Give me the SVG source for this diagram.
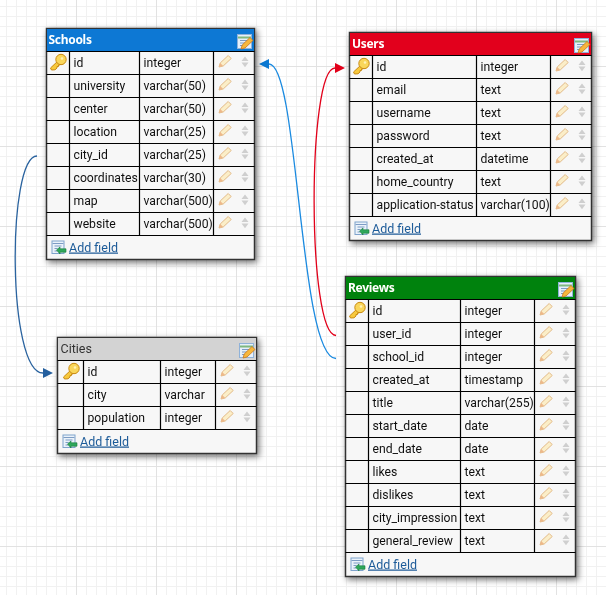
<svg xmlns="http://www.w3.org/2000/svg" width="606" height="595" viewBox="0 0 606 595">
<style>
text{font-family:Roboto,"Noto Sans","DejaVu Sans",sans-serif;font-size:12.2px;fill:#111}
.title{font-family:"Noto Sans",Roboto,sans-serif;font-weight:700;font-size:12px;fill:#fff;letter-spacing:-.3px}
.ctitle{font-size:12.5px;fill:#333}
.add{font-size:12.5px;fill:#1f5c99;text-decoration:underline}
.box{fill:#f7f7f7;stroke:#333;stroke-width:1.5}
.ln{fill:none;stroke:#000;stroke-width:1.2}
.conn{fill:none;stroke-width:1.3}
.tb{filter:url(#sh)}
</style>
<defs>
<pattern id="gmin" width="10" height="10" x="-4" y="-4" patternUnits="userSpaceOnUse"><path d="M.5 0V10M0 .5H10" stroke="#f1f1f1" fill="none"/></pattern>
<pattern id="gmaj" width="80" height="80" x="-4" y="-14" patternUnits="userSpaceOnUse"><path d="M.5 0V80M0 .5H80" stroke="#e2e2e2" fill="none"/></pattern>
<filter id="sh" x="-10%" y="-10%" width="125%" height="125%"><feDropShadow dx="2" dy="2.5" stdDeviation="3" flood-color="#000" flood-opacity=".55"/></filter>
<g id="act">
<path d="M5.500 15.500l1.200-4 8-7.500 3 3-8 7.500z" fill="#fbeec8" stroke="#e3bb88" stroke-width="1"/>
<path d="M5.500 15.500l1.200-4 2.800 2.800z" fill="#eeb88a"/>
<path d="M28 9.500l3.500-4.500 3.500 4.500zM28 11h7l-3.500 4.800z" fill="#cfcfcf"/>
</g>
<g id="key">
<path d="M3 16.500l8.500-8 3 3-2 2-1.500 0 0 1.500-1.500 0 0 1.500-2 1.800-3.500.2z" fill="#f7c93e" stroke="#c98a12" stroke-width="1"/>
<circle cx="13.500" cy="8" r="5.200" fill="#f9d65a" stroke="#c98a12"/>
<circle cx="14.500" cy="7" r="1.300" fill="#fff3b8"/>
</g>
<g id="edit">
<rect x=".5" y=".5" width="14" height="14" fill="#e6f0fa" stroke="#8fb2d9"/>
<path d="M1 3.500H14" stroke="#7fb87f" stroke-width="2"/>
<path d="M3 6.500H12M3 9H8M3 11.500H6" stroke="#7d9cc4"/>
<path d="M4 15l1.200-4 7.800-7.500 3 3-8 7.500z" fill="#f6b73c" stroke="#c9761a" stroke-width=".8"/>
</g>
<g id="addi">
<rect x=".5" y=".5" width="12" height="12.500" fill="#eaf2fa" stroke="#7fa3cc"/>
<path d="M1 3H12M3 5.500H10M3 8H6M3 10.500H6" stroke="#7d9cc4"/>
<path d="M5 9.500l3.500-3v1.800H14.500v3.400H8.500v1.800z" fill="#2fa85a" stroke="#177a3c" stroke-width=".6"/>
</g>
</defs>
<rect width="606" height="595" fill="#fff"/>
<rect width="606" height="595" fill="url(#gmin)"/>
<rect width="606" height="595" fill="url(#gmaj)"/>

<g id="connectors">
<path class="conn" stroke="#1a8ae0" d="M336 358.500C299 358.500 299 64 269 64"/>
<path d="M259 64l10-5v10z" fill="#0a78d2"/>
<path class="conn" stroke="#e2001a" d="M336 335.500C307 335.500 307 68 335 68"/>
<path d="M345 68l-10-5v10z" fill="#e2001a"/>
<path class="conn" stroke="#2a639f" d="M37 156C7 156 7 373 43 373"/>
<path d="M53 373l-10-5v10z" fill="#245f9e"/>
</g>

<g id="schools" class="tb" transform="translate(46.500,28.500)">
<rect class="box" width="208" height="231"/>
<rect x=".5" y=".5" width="207" height="22.500" fill="#0878d4"/>
<path class="ln" d="M0 23H208M0 46H208M0 69H208M0 92H208M0 115H208M0 138H208M0 161H208M0 184H208M0 207H208M23 23V207M93 23V207M167 23V207"/>
<text class="title" x="2" y="15.500">Schools</text>
<use href="#edit" x="190.500" y="5.500"/>
<use href="#key" x="1" y="23"/>
<text x="27" y="38">id</text><text x="97" y="38">integer</text><use href="#act" x="167" y="23"/>
<text x="27" y="61">university</text><text x="97" y="61">varchar(50)</text><use href="#act" x="167" y="46"/>
<text x="27" y="84">center</text><text x="97" y="84">varchar(50)</text><use href="#act" x="167" y="69"/>
<text x="27" y="107">location</text><text x="97" y="107">varchar(25)</text><use href="#act" x="167" y="92"/>
<text x="27" y="130">city_id</text><text x="97" y="130">varchar(25)</text><use href="#act" x="167" y="115"/>
<text x="27" y="153">coordinates</text><text x="97" y="153">varchar(30)</text><use href="#act" x="167" y="138"/>
<text x="27" y="176">map</text><text x="97" y="176">varchar(500)</text><use href="#act" x="167" y="161"/>
<text x="27" y="199">website</text><text x="97" y="199">varchar(500)</text><use href="#act" x="167" y="184"/>
<use href="#addi" x="5" y="212"/><text class="add" x="22.500" y="223">Add field</text>
</g>

<g id="users" class="tb" transform="translate(349.500,32.500)">
<rect class="box" width="242" height="208"/>
<rect x=".5" y=".5" width="241" height="22.500" fill="#e2001a"/>
<path class="ln" d="M0 23H242M0 46H242M0 69H242M0 92H242M0 115H242M0 138H242M0 161H242M0 184H242M23 23V184M127 23V184M201 23V184"/>
<text class="title" x="2.500" y="15.500">Users</text>
<use href="#edit" x="224.500" y="5.500"/>
<use href="#key" x="1" y="23"/>
<text x="27" y="38">id</text><text x="131" y="38">integer</text><use href="#act" x="201" y="23"/>
<text x="27" y="61">email</text><text x="131" y="61">text</text><use href="#act" x="201" y="46"/>
<text x="27" y="84">username</text><text x="131" y="84">text</text><use href="#act" x="201" y="69"/>
<text x="27" y="107">password</text><text x="131" y="107">text</text><use href="#act" x="201" y="92"/>
<text x="27" y="130">created_at</text><text x="131" y="130">datetime</text><use href="#act" x="201" y="115"/>
<text x="27" y="153">home_country</text><text x="131" y="153">text</text><use href="#act" x="201" y="138"/>
<text x="27" y="176">application-status</text><text x="131" y="176">varchar(100)</text><use href="#act" x="201" y="161"/>
<use href="#addi" x="5" y="189"/><text class="add" x="22.500" y="200">Add field</text>
</g>

<g id="cities" class="tb" transform="translate(57.500,337.500)">
<rect class="box" width="199" height="116"/>
<rect x=".5" y=".5" width="198" height="22.500" fill="#d3d3d3"/>
<path class="ln" d="M0 23H199M0 46H199M0 69H199M0 92H199M26 23V92M103 23V92M158 23V92"/>
<text class="ctitle" x="3" y="15.500">Cities</text>
<use href="#edit" x="181.500" y="5.500"/>
<use href="#key" x="3" y="23"/>
<text x="30" y="38">id</text><text x="107" y="38">integer</text><use href="#act" x="158" y="23"/>
<text x="30" y="61">city</text><text x="107" y="61">varchar</text><use href="#act" x="158" y="46"/>
<text x="30" y="84">population</text><text x="107" y="84">integer</text><use href="#act" x="158" y="69"/>
<use href="#addi" x="5" y="97"/><text class="add" x="22.500" y="108">Add field</text>
</g>

<g id="reviews" class="tb" transform="translate(345.500,276.500)">
<rect class="box" width="230" height="300"/>
<rect x=".5" y=".5" width="229" height="22.500" fill="#068208"/>
<path class="ln" d="M0 23H230M0 46H230M0 69H230M0 92H230M0 115H230M0 138H230M0 161H230M0 184H230M0 207H230M0 230H230M0 253H230M0 276H230M23 23V276M115 23V276M189 23V276"/>
<text class="title" x="2.500" y="15.500">Reviews</text>
<use href="#edit" x="212.500" y="5.500"/>
<use href="#key" x="1" y="23"/>
<text x="27" y="38">id</text><text x="119" y="38">integer</text><use href="#act" x="189" y="23"/>
<text x="27" y="61">user_id</text><text x="119" y="61">integer</text><use href="#act" x="189" y="46"/>
<text x="27" y="84">school_id</text><text x="119" y="84">integer</text><use href="#act" x="189" y="69"/>
<text x="27" y="107">created_at</text><text x="119" y="107">timestamp</text><use href="#act" x="189" y="92"/>
<text x="27" y="130">title</text><text x="119" y="130">varchar(255)</text><use href="#act" x="189" y="115"/>
<text x="27" y="153">start_date</text><text x="119" y="153">date</text><use href="#act" x="189" y="138"/>
<text x="27" y="176">end_date</text><text x="119" y="176">date</text><use href="#act" x="189" y="161"/>
<text x="27" y="199">likes</text><text x="119" y="199">text</text><use href="#act" x="189" y="184"/>
<text x="27" y="222">dislikes</text><text x="119" y="222">text</text><use href="#act" x="189" y="207"/>
<text x="27" y="245">city_impression</text><text x="119" y="245">text</text><use href="#act" x="189" y="230"/>
<text x="27" y="268">general_review</text><text x="119" y="268">text</text><use href="#act" x="189" y="253"/>
<use href="#addi" x="5" y="281"/><text class="add" x="22.500" y="292">Add field</text>
</g>
</svg>
